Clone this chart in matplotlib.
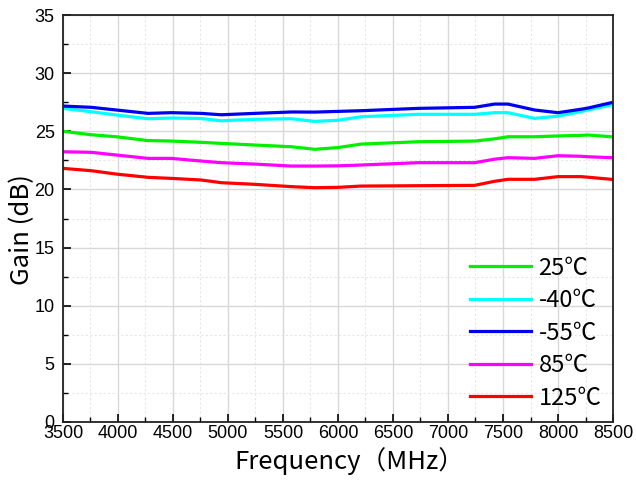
import matplotlib
matplotlib.use("Agg")
import matplotlib.pyplot as plt
from matplotlib.ticker import MultipleLocator

# Data
freq_a = [3500, 3758, 3985, 4273, 4485, 4758, 4939, 5242, 5576, 5788, 6000,
          6212, 6727, 7242, 7424, 7545, 7788, 8000, 8212, 8273, 8485]
gain_25 = [25.0, 24.7, 24.53, 24.2, 24.16, 24.05, 23.96, 23.82, 23.67, 23.45, 23.6,
           23.9, 24.1, 24.16, 24.35, 24.53, 24.53, 24.6, 24.65, 24.68, 24.53]
gain_m40 = [26.97, 26.68, 26.4, 26.08, 26.14, 26.1, 25.9, 26.03, 26.08, 25.85, 25.95,
            26.25, 26.46, 26.46, 26.6, 26.6, 26.11, 26.3, 26.7, 26.83, 27.26]
gain_m55 = [27.17, 27.06, 26.83, 26.54, 26.6, 26.54, 26.42, 26.54, 26.66, 26.65, 26.71,
            26.77, 26.97, 27.06, 27.34, 27.34, 26.83, 26.6, 26.9, 27.0, 27.46]
gain_85 = [23.24, 23.19, 22.96, 22.67, 22.67, 22.44, 22.3, 22.18, 22.01, 22.01, 22.03,
           22.1, 22.3, 22.3, 22.6, 22.73, 22.67, 22.9, 22.85, 22.81, 22.73]
gain_125 = [21.81, 21.61, 21.32, 21.04, 20.95, 20.81, 20.58, 20.44, 20.24, 20.15, 20.18,
            20.29, 20.32, 20.35, 20.7, 20.87, 20.87, 21.1, 21.1, 21.05, 20.87]

series = [
    ("25℃", gain_25, "#00f000"),
    ("-40℃", gain_m40, "#00ffff"),
    ("-55℃", gain_m55, "#0000f0"),
    ("85℃", gain_85, "#ff00ff"),
    ("125℃", gain_125, "#ff0000"),
]

fig = plt.figure(figsize=(6.36, 4.83), dpi=100)
ax = fig.add_axes([63/636, 61/483, 550/636, 407/483])

for label, g, c in series:
    ax.plot(freq_a, g, color=c, lw=2.3, label=label)

ax.set_xlim(3500, 8500)
ax.set_ylim(0, 35)
ax.xaxis.set_major_locator(MultipleLocator(500))
ax.xaxis.set_minor_locator(MultipleLocator(250))
ax.yaxis.set_major_locator(MultipleLocator(5))
ax.yaxis.set_minor_locator(MultipleLocator(2.5))

ax.grid(which="major", color="#d8d8d8", lw=1.0, ls="-")
ax.grid(which="minor", color="#e6e6e6", lw=0.8, ls=(0, (2, 2)))
ax.set_axisbelow(True)

ax.tick_params(which="major", direction="in", length=6, width=1.2,
               top=False, right=False, labelsize=13)
ax.tick_params(axis="x", which="major", pad=2)
ax.tick_params(axis="y", which="major", pad=6)
ax.tick_params(which="minor", direction="in", length=3.5, width=1.0,
               top=False, right=False)
for lab in ax.get_xticklabels() + ax.get_yticklabels():
    lab.set_family("Liberation Sans")

for sp in ax.spines.values():
    sp.set_linewidth(1.3)
    sp.set_color("#222222")

lab_font = ["Noto Sans CJK SC", "DejaVu Sans"]
ax.set_xlabel("Frequency（MHz）", family=lab_font, fontsize=18.5)
ax.set_ylabel("Gain (dB)", family=lab_font, fontsize=18.5)
ax.xaxis.set_label_coords(0.52, -0.062)
ax.yaxis.set_label_coords(-0.05, 0.474)

leg = ax.legend(loc="lower right", bbox_to_anchor=(1.007, -0.007), frameon=False,
                prop={"family": lab_font, "size": 17},
                handlelength=2.6, handletextpad=0.3, labelspacing=0.4,
                borderaxespad=0.25)
for line in leg.get_lines():
    line.set_linewidth(2.3)

fig.savefig("out.png", dpi=100)
